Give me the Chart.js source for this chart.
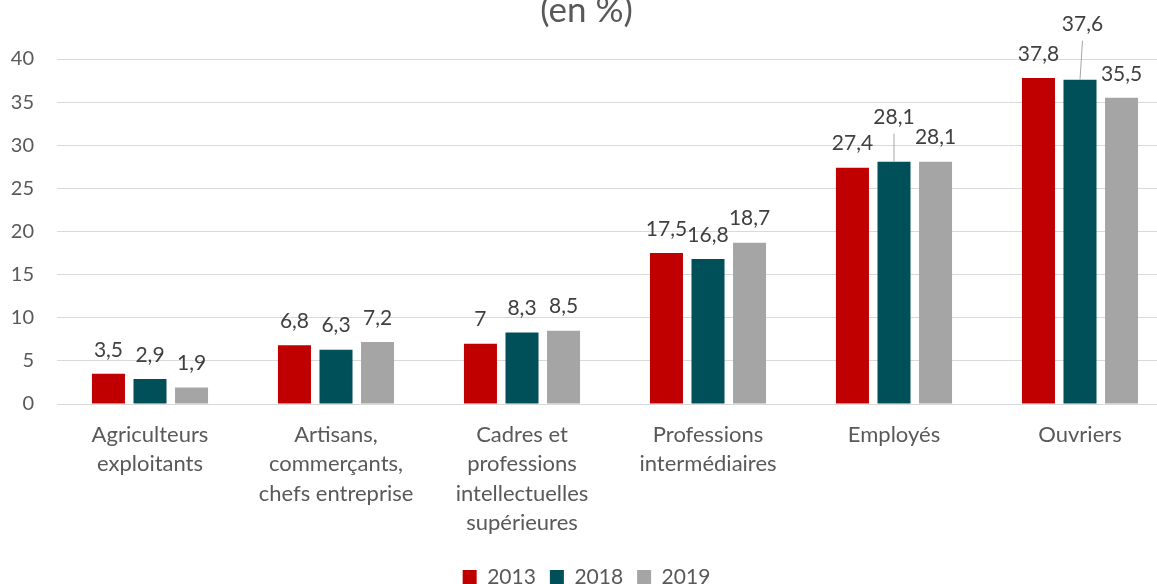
<!DOCTYPE html>
<html>
<head>
<meta charset="utf-8">
<script src="https://cdn.jsdelivr.net/npm/chart.js@4/dist/chart.umd.min.js"></script>
<style>
  html, body { margin: 0; padding: 0; background: #fff; overflow: hidden; }
  #wrap { width: 1157px; height: 584px; overflow: hidden; }
</style>
</head>
<body>
<div id="wrap"><canvas id="chart" width="1190" height="584"></canvas></div>
<script>
var categories = [
  ["Agriculteurs", "exploitants"],
  ["Artisans,", "commerçants,", "chefs entreprise"],
  ["Cadres et", "professions", "intellectuelles", "supérieures"],
  ["Professions", "intermédiaires"],
  "Employés",
  "Ouvriers"
];
var years = ["2013", "2018", "2019"];
var values2013 = [3.5, 6.8, 7, 17.5, 27.4, 37.8];
var values2018 = [2.9, 6.3, 8.3, 16.8, 28.1, 37.6];
var values2019 = [1.9, 7.2, 8.5, 18.7, 28.1, 35.5];
var yTicks = [0, 5, 10, 15, 20, 25, 30, 35, 40];

var colors = ["#c00000", "#00505a", "#a5a5a5"];
var textColor = "#595959";
var fontFamily = "Lato, 'Open Sans', sans-serif";

// labels that Excel pushed up with a leader line: "dataset:index" -> extra lift, x shift
var callouts = { "1:4": { lift: 44, dx: 0 }, "1:5": { lift: 55, dx: 2.5 } };

var valueLabels = {
  id: "valueLabels",
  afterDatasetsDraw: function (chart) {
    var ctx = chart.ctx;
    ctx.save();
    ctx.font = "21px " + fontFamily;
    ctx.fillStyle = "#404040";
    ctx.textAlign = "center";
    ctx.textBaseline = "middle";
    chart.data.datasets.forEach(function (ds, di) {
      chart.getDatasetMeta(di).data.forEach(function (bar, i) {
        var c = callouts[di + ":" + i];
        var lift = c ? c.lift : 24;
        var dx = c ? c.dx : 0;
        var ty = bar.y - lift;
        if (c) {
          ctx.strokeStyle = "#a6a6a6";
          ctx.lineWidth = 1;
          ctx.beginPath();
          ctx.moveTo(bar.x + dx, ty + 16);
          ctx.lineTo(bar.x, bar.y);
          ctx.stroke();
        }
        ctx.fillText(String(ds.data[i]).replace(".", ","), bar.x + dx, ty);
      });
    });
    ctx.restore();
  }
};

var allValues = [values2013, values2018, values2019];

new Chart(document.getElementById("chart").getContext("2d"), {
  type: "bar",
  data: {
    labels: categories,
    datasets: years.map(function (y, k) {
      return {
        label: y,
        data: allValues[k],
        backgroundColor: colors[k],
        categoryPercentage: 0.67,
        barPercentage: 0.795
      };
    })
  },
  options: {
    responsive: false,
    animation: false,
    layout: { padding: { left: 0, right: 17, top: 0, bottom: -13.5 } },
    plugins: {
      tooltip: { enabled: false },
      title: {
        display: true,
        text: "(en %)",
        color: textColor,
        font: { family: fontFamily, size: 35, weight: "normal", lineHeight: 0.7 },
        padding: { top: -2, bottom: 36.5 }
      },
      legend: {
        position: "bottom",
        labels: {
          boxWidth: 14,
          boxHeight: 14,
          padding: 14,
          color: textColor,
          font: { family: fontFamily, size: 21 }
        }
      }
    },
    scales: {
      x: {
        grid: { display: false, drawTicks: false },
        border: { color: "#d9d9d9" },
        ticks: {
          color: textColor,
          padding: 16,
          maxRotation: 0,
          autoSkip: false,
          font: { family: fontFamily, size: 22, lineHeight: 1.34 }
        },
        afterFit: function (s) { s.height = 148.5; }
      },
      y: {
        min: 0,
        max: 40,
        afterBuildTicks: function (s) { s.ticks = yTicks.map(function (v) { return { value: v }; }); },
        grid: { color: "#d9d9d9", drawTicks: false },
        border: { display: false },
        ticks: {
          color: textColor,
          padding: 23,
          font: { family: fontFamily, size: 20 }
        },
        afterFit: function (s) { s.width = 57; }
      }
    }
  },
  plugins: [valueLabels]
});
</script>
</body>
</html>
